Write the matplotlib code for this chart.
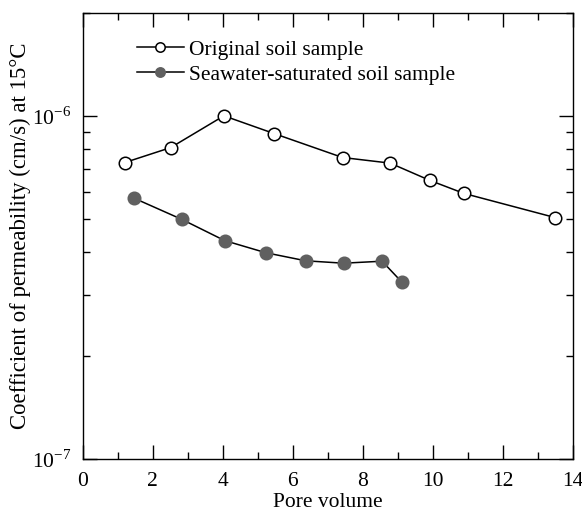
import matplotlib
matplotlib.use("Agg")
import matplotlib.pyplot as plt
from matplotlib.ticker import FixedLocator, LogLocator, NullFormatter, MultipleLocator

plt.rcParams["font.family"] = ["Liberation Serif", "DejaVu Serif"]
plt.rcParams["mathtext.fontset"] = "stix"
plt.rcParams["axes.unicode_minus"] = False

# ── Data ──────────────────────────────────────────────────────────────────────
orig_x = [1.21, 2.52, 4.04, 5.47, 7.43, 8.79, 9.93, 10.90, 13.51]
orig_k = [0.731e-6, 0.808e-6, 1.0e-6, 0.888e-6, 0.756e-6, 0.728e-6, 0.648e-6, 0.594e-6, 0.505e-6]

sea_x = [1.48, 2.84, 4.06, 5.24, 6.38, 7.46, 8.56, 9.12]
sea_k = [0.575e-6, 0.499e-6, 0.433e-6, 0.399e-6, 0.378e-6, 0.372e-6, 0.377e-6, 0.328e-6]

y_major = [1e-7, 1e-6]
y_major_labels = ["10$^{\\mathregular{-7}}$", "10$^{\\mathregular{-6}}$"]

# ── Figure ────────────────────────────────────────────────────────────────────
fig = plt.figure(figsize=(5.82, 5.14), dpi=100)
ax = fig.add_axes([82.5 / 582, 1 - 459 / 514, 490 / 582, (459 - 12.5) / 514])

ax.plot(orig_x, orig_k, "-o", color="black", lw=1.1, ms=9,
        mfc="white", mec="black", mew=1.1, label="Original soil sample")
ax.plot(sea_x, sea_k, "-o", color="black", lw=1.1, ms=9,
        mfc="#606060", mec="#606060", mew=1.1, label="Seawater-saturated soil sample")

ax.set_yscale("log")
ax.set_xlim(0, 14)
ax.set_ylim(1e-7, 2e-6)

ax.xaxis.set_major_locator(MultipleLocator(2))
ax.xaxis.set_minor_locator(MultipleLocator(1))
ax.yaxis.set_major_locator(FixedLocator(y_major))
ax.set_yticklabels(y_major_labels)
ax.yaxis.set_minor_locator(LogLocator(base=10, subs=range(2, 10)))
ax.yaxis.set_minor_formatter(NullFormatter())

ax.tick_params(which="both", direction="in", top=True, right=True,
               labelsize=15.5, width=1.0)
ax.tick_params(axis="x", which="major", pad=9)
ax.tick_params(axis="y", which="major", pad=8)
ax.tick_params(which="major", length=10)
ax.tick_params(which="minor", length=5)
for s in ax.spines.values():
    s.set_linewidth(1.0)

ax.set_xlabel("Pore volume", fontsize=15.5, labelpad=2)
ax.set_ylabel("Coefficient of permeability (cm/s) at 15°C", fontsize=16.4)
ax.yaxis.set_label_coords(-0.106, 0.5)

ax.legend(loc="upper left", bbox_to_anchor=(0.084, 0.968), frameon=False,
          fontsize=15.5, handlelength=2.2, handletextpad=0.25, labelspacing=0.24,
          borderaxespad=0.2, markerscale=0.75)

fig.savefig("out.png", dpi=100)
